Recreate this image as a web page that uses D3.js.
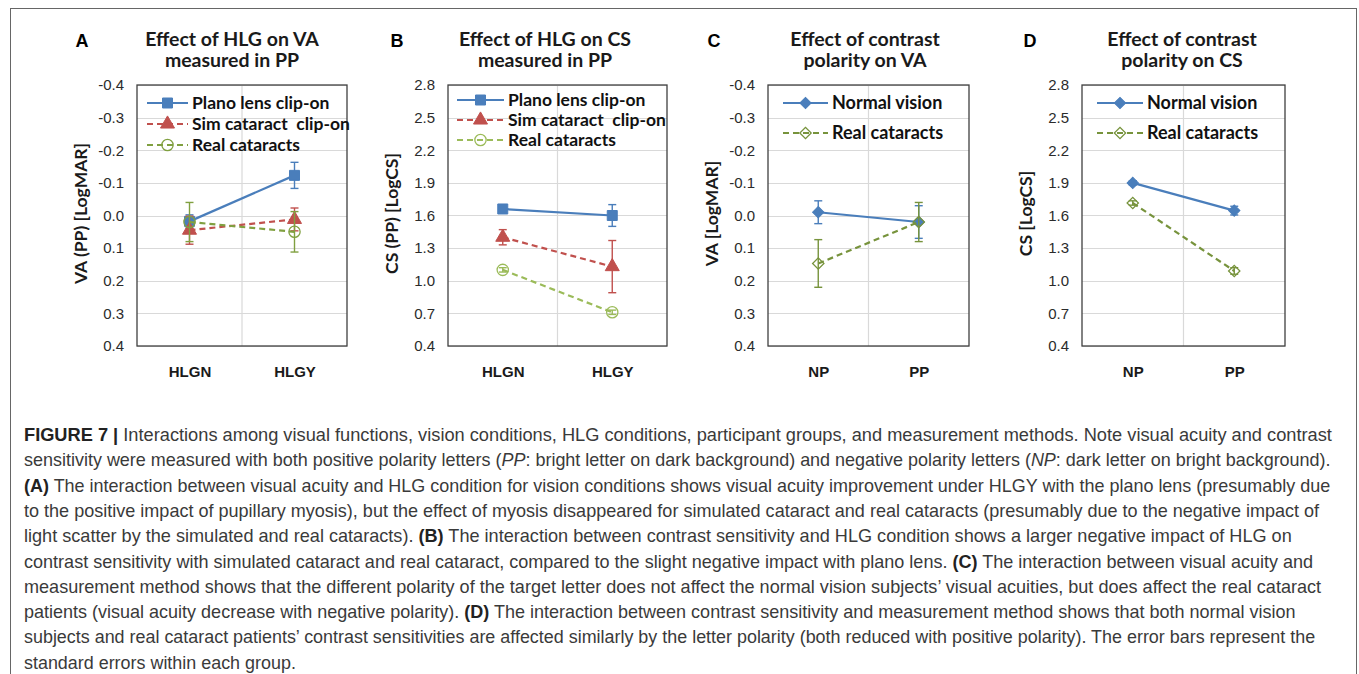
<!DOCTYPE html>
<html lang="en">
<head>
<meta charset="UTF-8" />
<title>figure 7</title>
<script src="https://cdn.jsdelivr.net/npm/d3@7"></script>
<style>
  body { margin: 0; background: #fff; }
  svg text { font-family: "Liberation Sans", Arial, sans-serif; }
  .ttl, .leg, .ytitle { font-family: Lato, "Open Sans", sans-serif; font-weight: bold; }
  .cap { font-family: "Liberation Sans", Arial, sans-serif; fill: #3a3a3a; }
</style>
</head>
<body>
<svg id="fig" width="1359" height="674"></svg>
<script>
// categories and tick values
let hlgCats = ["HLGN", "HLGY"];
let polCats = ["NP", "PP"];
let vaTicks = [-0.4, -0.3, -0.2, -0.1, 0.0, 0.1, 0.2, 0.3, 0.4];
let csTicks = [0.4, 0.7, 1.0, 1.3, 1.6, 1.9, 2.2, 2.5, 2.8];

// A: VA measured in PP, by HLG condition
let vaPlano = [0.018, -0.123], vaPlanoSE = [0.02, 0.04];
let vaSim = [0.045, 0.012], vaSimSE = [0.043, 0.035];
let vaReal = [0.02, 0.05], vaRealSE = [0.06, 0.062];

// B: CS measured in PP, by HLG condition
let csPlano = [1.66, 1.60], csPlanoSE = [0.03, 0.1];
let csSim = [1.40, 1.13], csSimSE = [0.07, 0.24];
let csReal = [1.10, 0.71], csRealSE = [0.02, 0.02];

// C: VA by contrast polarity
let vaNormal = [-0.01, 0.02], vaNormalSE = [0.035, 0.05];
let vaCat = [0.147, 0.02], vaCatSE = [0.073, 0.06];

// D: CS by contrast polarity
let csNormal = [1.90, 1.645], csNormalSE = [0.02, 0.04];
let csCat = [1.715, 1.09], csCatSE = [0.02, 0.03];

let legendAB = ["Plano lens clip-on", "Sim cataract  clip-on", "Real cataracts"];
let legendCD = ["Normal vision", "Real cataracts"];

let blue = "#4a7ebb", red = "#c0504d";

let panels = [
  { letter: "A", title: ["Effect of HLG on VA", "measured in PP"], ytitle: "VA (PP) [LogMAR]",
    cats: hlgCats, ticks: vaTicks, domain: [-0.4, 0.4],
    left: 137, right: 347, titleX: 232, letterX: 82,
    legX: 147, legY: 103, legDy: 21, legLen: 41, legFont: 17.5,
    series: [
      { name: legendAB[0], v: vaPlano, se: vaPlanoSE, color: blue, dash: null, mark: "square" },
      { name: legendAB[1], v: vaSim, se: vaSimSE, color: red, dash: "6,4", mark: "triangle" },
      { name: legendAB[2], v: vaReal, se: vaRealSE, color: "#80a040", dash: "6,4", mark: "circle" }
    ] },
  { letter: "B", title: ["Effect of HLG on CS", "measured in PP"], ytitle: "CS (PP) [LogCS]",
    cats: hlgCats, ticks: csTicks, domain: [2.8, 0.4],
    left: 448, right: 667, titleX: 545, letterX: 397,
    legX: 457, legY: 100, legDy: 20, legLen: 47, legFont: 17.5,
    series: [
      { name: legendAB[0], v: csPlano, se: csPlanoSE, color: blue, dash: null, mark: "square" },
      { name: legendAB[1], v: csSim, se: csSimSE, color: red, dash: "6,4", mark: "triangle" },
      { name: legendAB[2], v: csReal, se: csRealSE, color: "#9bbb59", dash: "6,4", mark: "circle" }
    ] },
  { letter: "C", title: ["Effect of contrast", "polarity on VA"], ytitle: "VA [LogMAR]",
    cats: polCats, ticks: vaTicks, domain: [-0.4, 0.4],
    left: 768, right: 969, titleX: 865, letterX: 714,
    legX: 783, legY: 103, legDy: 30, legLen: 45, legFont: 18,
    series: [
      { name: legendCD[0], v: vaNormal, se: vaNormalSE, color: blue, dash: null, mark: "diamond" },
      { name: legendCD[1], v: vaCat, se: vaCatSE, color: "#77933c", dash: "6,4", mark: "diamondOpen" }
    ] },
  { letter: "D", title: ["Effect of contrast", "polarity on CS"], ytitle: "CS [LogCS]",
    cats: polCats, ticks: csTicks, domain: [2.8, 0.4],
    left: 1082, right: 1285, titleX: 1182, letterX: 1030,
    legX: 1097, legY: 103, legDy: 30, legLen: 46, legFont: 18,
    series: [
      { name: legendCD[0], v: csNormal, se: csNormalSE, color: blue, dash: null, mark: "diamond" },
      { name: legendCD[1], v: csCat, se: csCatSE, color: "#77933c", dash: "6,4", mark: "diamondOpen" }
    ] }
];

let capLines = [
  [["FIGURE 7 | ", "b"], ["Interactions among visual functions, vision conditions, HLG conditions, participant groups, and measurement methods. Note visual acuity and contrast"]],
  [["sensitivity were measured with both positive polarity letters ("], ["PP", "i"], [": bright letter on dark background) and negative polarity letters ("], ["NP", "i"], [": dark letter on bright background)."]],
  [["(A)", "b"], [" The interaction between visual acuity and HLG condition for vision conditions shows visual acuity improvement under HLGY with the plano lens (presumably due"]],
  [["to the positive impact of pupillary myosis), but the effect of myosis disappeared for simulated cataract and real cataracts (presumably due to the negative impact of"]],
  [["light scatter by the simulated and real cataracts). "], ["(B)", "b"], [" The interaction between contrast sensitivity and HLG condition shows a larger negative impact of HLG on"]],
  [["contrast sensitivity with simulated cataract and real cataract, compared to the slight negative impact with plano lens. "], ["(C)", "b"], [" The interaction between visual acuity and"]],
  [["measurement method shows that the different polarity of the target letter does not affect the normal vision subjects\u2019 visual acuities, but does affect the real cataract"]],
  [["patients (visual acuity decrease with negative polarity). "], ["(D)", "b"], [" The interaction between contrast sensitivity and measurement method shows that both normal vision"]],
  [["subjects and real cataract patients\u2019 contrast sensitivities are affected similarly by the letter polarity (both reduced with positive polarity). The error bars represent the"]],
  [["standard errors within each group."]]
];
// right edge of each caption line in the reference (last line follows the one before)
let capEnds = [1333, 1331, 1331, 1320, 1293, 1314, 1322, 1296, 1316, null];

let svg = d3.select("#fig");
let plotTop = 85, plotBottom = 346;

// outer frame
svg.append("rect").attr("x", 10.5).attr("y", 8.5).attr("width", 1346).attr("height", 700)
  .attr("fill", "none").attr("stroke", "#666").attr("stroke-width", 1);

function marker(type) {
  if (type === "square") return d3.symbol().type(d3.symbolSquare).size(100)();
  if (type === "triangle") return d3.symbol().type(d3.symbolTriangle).size(85)();
  if (type === "circle") return d3.symbol().type(d3.symbolCircle).size(100)();
  return d3.symbol().type(d3.symbolSquare).size(64)();
}
function drawMark(g, s, cx, cy) {
  let diamond = s.mark === "diamond" || s.mark === "diamondOpen";
  let open = s.mark === "circle" || s.mark === "diamondOpen";
  g.append("path")
    .attr("d", marker(s.mark))
    .attr("transform", `translate(${cx},${cy})` + (diamond ? " rotate(45)" : ""))
    .attr("fill", open ? "none" : s.color)
    .attr("stroke", s.color)
    .attr("stroke-width", open ? 1.3 : 1);
}

panels.forEach(p => {
  let g = svg.append("g");
  let x = d3.scalePoint().domain(p.cats).range([p.left, p.right]).padding(0.5);
  let y = d3.scaleLinear().domain(p.domain).range([plotTop, plotBottom]);

  // gridlines
  g.append("g").selectAll("line").data(p.ticks).join("line")
    .attr("x1", p.left).attr("x2", p.right)
    .attr("y1", d => Math.round(y(d)) + 0.5).attr("y2", d => Math.round(y(d)) + 0.5)
    .attr("stroke", "#d9d9d9").attr("stroke-width", 1.2);
  g.append("line")
    .attr("x1", (p.left + p.right) / 2).attr("x2", (p.left + p.right) / 2)
    .attr("y1", plotTop).attr("y2", plotBottom)
    .attr("stroke", "#d9d9d9").attr("stroke-width", 1.2);
  g.append("rect").attr("x", p.left).attr("y", plotTop)
    .attr("width", p.right - p.left).attr("height", plotBottom - plotTop)
    .attr("fill", "none").attr("stroke", "#404040").attr("stroke-width", 1.3);

  // axes
  let ya = g.append("g").attr("transform", `translate(${p.left},0)`)
    .call(d3.axisLeft(y).tickValues(p.ticks).tickSize(0).tickPadding(13).tickFormat(d => d.toFixed(1)));
  ya.select(".domain").remove();
  ya.selectAll("text").attr("font-size", 15).attr("fill", "#2b2b2b")
    .style("font-family", "'Liberation Sans', Arial, sans-serif");

  let xa = g.append("g").attr("transform", `translate(0,${plotBottom})`)
    .call(d3.axisBottom(x).tickSize(0).tickPadding(20));
  xa.select(".domain").remove();
  xa.selectAll("text").attr("font-size", 15).attr("font-weight", "bold").attr("fill", "#1a1a1a")
    .style("font-family", "'Liberation Sans', Arial, sans-serif");

  // panel letter and two-line title
  g.append("text").attr("x", p.letterX).attr("y", 47).attr("text-anchor", "middle")
    .attr("font-size", 18).attr("font-weight", "bold").attr("fill", "#000").text(p.letter);
  p.title.forEach((t, i) => {
    g.append("text").attr("class", "ttl").attr("x", p.titleX).attr("y", 46 + i * 21)
      .attr("text-anchor", "middle").attr("font-size", 19.5).attr("fill", "#1a1a1a").text(t);
  });
  g.append("text").attr("class", "ytitle")
    .attr("transform", `translate(${p.left - 50},${(plotTop + plotBottom) / 2 - 2}) rotate(-90)`)
    .attr("text-anchor", "middle").attr("font-size", 17.5).attr("fill", "#1a1a1a").text(p.ytitle);

  // series
  let line = d3.line().x((d, i) => x(p.cats[i])).y(d => y(d));
  p.series.forEach(s => {
    g.append("path").attr("d", line(s.v)).attr("fill", "none")
      .attr("stroke", s.color).attr("stroke-width", 2.2)
      .attr("stroke-dasharray", s.dash);
    s.v.forEach((v, i) => {
      let cx = x(p.cats[i]);
      let y1 = y(v - s.se[i]), y2 = y(v + s.se[i]);
      g.append("line").attr("x1", cx).attr("x2", cx).attr("y1", y1).attr("y2", y2)
        .attr("stroke", s.color).attr("stroke-width", 1.4);
      [y1, y2].forEach(yy => g.append("line")
        .attr("x1", cx - 4).attr("x2", cx + 4).attr("y1", yy).attr("y2", yy)
        .attr("stroke", s.color).attr("stroke-width", 1.4));
    });
    s.v.forEach((v, i) => drawMark(g, s, x(p.cats[i]), y(v)));
  });

  // legend
  p.series.forEach((s, i) => {
    let ly = p.legY + i * p.legDy;
    g.append("line").attr("x1", p.legX).attr("x2", p.legX + p.legLen)
      .attr("y1", ly).attr("y2", ly)
      .attr("stroke", s.color).attr("stroke-width", 2.2).attr("stroke-dasharray", s.dash);
    drawMark(g, s, p.legX + p.legLen / 2, ly);
    g.append("text").attr("class", "leg").attr("x", p.legX + p.legLen + 4).attr("y", ly + 6)
      .attr("font-size", p.legFont).attr("fill", "#111").style("white-space", "pre").text(s.name);
  });
});

// caption: each line squeezed to the width it has in the reference
let cap = svg.append("g").attr("class", "cap");
let lastK = 1;
capLines.forEach((runs, i) => {
  let t = cap.append("text").attr("x", 0).attr("y", 0).attr("font-size", 17.5);
  runs.forEach(r => t.append("tspan").text(r[0])
    .attr("font-weight", r[1] === "b" ? "bold" : null)
    .attr("font-style", r[1] === "i" ? "italic" : null)
    .attr("fill", r[1] === "b" ? "#222" : null));
  if (capEnds[i]) lastK = (capEnds[i] - 24) / t.node().getComputedTextLength();
  t.attr("transform", `translate(24,${441 + i * 25.3}) scale(${lastK},1)`);
});
</script>
</body>
</html>
